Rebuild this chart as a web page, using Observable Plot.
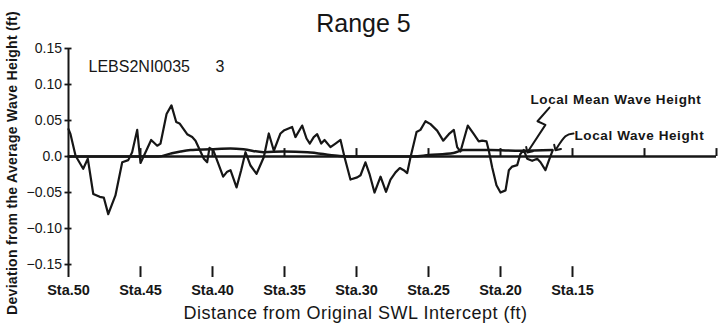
<!DOCTYPE html>
<html><head><meta charset="utf-8">
<script src="https://cdn.jsdelivr.net/npm/d3@7"></script>
<script src="https://cdn.jsdelivr.net/npm/@observablehq/plot@0.6"></script>
<style>
body{margin:0;background:#fff;}
svg text{font-family:"Liberation Sans",Arial,sans-serif;}
.spaced text{letter-spacing:0.6px;}
.xlab text{letter-spacing:0.5px;}
.ylab text{letter-spacing:0.3px;}
</style></head><body><div id="chart"></div>
<script>
const title = "Range 5";
const runId = "LEBS2NI0035";
const runNo = "3";
const xLabel = "Distance from Original SWL Intercept (ft)";
const yLabel = "Deviation from the Average Wave Height (ft)";
const meanLabel = "Local Mean Wave Height";
const localLabel = "Local Wave Height";

const stationTicks = [50, 45, 40, 35, 30, 25, 20, 15];
const stationLabels = ["Sta.50", "Sta.45", "Sta.40", "Sta.35", "Sta.30", "Sta.25", "Sta.20", "Sta.15"];
const zeroLineTicks = [45, 40, 35, 30, 25, 20, 15, 10, 5];
const yTicks = [0.15, 0.10, 0.05, 0, -0.05, -0.10, -0.15];
const yTickLabels = ["0.15", "0.10", "0.05", "0.0", "\u22120.05", "\u22120.10", "\u22120.15"];

const waveStation = [50.0, 49.86, 49.51, 48.98, 48.66, 48.28, 47.83, 47.55, 47.24, 46.74, 46.27, 45.85, 45.58, 45.23, 45.0, 44.65, 44.26, 43.84, 43.61, 43.19, 42.85, 42.52, 42.29, 41.76, 41.41, 41.18, 40.60, 40.37, 40.21, 39.95, 39.63, 39.26, 38.98, 38.75, 38.33, 38.01, 37.71, 37.36, 36.94, 36.44, 36.09, 35.74, 35.28, 35.05, 34.47, 34.24, 33.77, 33.47, 33.24, 32.97, 32.73, 32.45, 32.22, 31.81, 31.46, 31.11, 30.83, 30.42, 29.95, 29.72, 29.38, 29.10, 28.75, 28.33, 27.95, 27.64, 27.29, 26.99, 26.72, 26.48, 26.25, 26.02, 25.83, 25.56, 25.21, 24.86, 24.40, 23.98, 23.59, 23.24, 23.01, 22.78, 22.27, 21.85, 21.51, 21.27, 20.97, 20.81, 20.58, 20.28, 20.00, 19.65, 19.42, 19.19, 18.84, 18.61, 18.38, 18.15, 17.80, 17.45, 17.22, 16.88, 16.65, 16.39];
const waveDeviation = [0.038, 0.031, 0.001, -0.017, -0.003, -0.052, -0.056, -0.057, -0.080, -0.054, -0.008, -0.005, 0.006, 0.037, -0.009, 0.006, 0.023, 0.015, 0.018, 0.059, 0.071, 0.048, 0.046, 0.031, 0.027, 0.022, -0.003, -0.008, 0.012, 0.009, -0.008, -0.028, -0.021, -0.019, -0.043, -0.019, 0.006, -0.0125, -0.024, -0.001, 0.032, 0.008, 0.032, 0.036, 0.041, 0.027, 0.043, 0.025, 0.018, 0.027, 0.031, 0.018, 0.023, 0.013, 0.018, 0.023, -0.001, -0.032, -0.029, -0.026, -0.008, -0.024, -0.050, -0.028, -0.049, -0.032, -0.022, -0.016, -0.019, -0.023, -0.001, 0.018, 0.034, 0.037, 0.049, 0.045, 0.036, 0.022, 0.031, 0.037, 0.013, 0.007, 0.043, 0.031, 0.021, 0.022, 0.021, 0.008, -0.015, -0.040, -0.050, -0.047, -0.019, -0.014, -0.012, 0.004, 0.009, -0.003, -0.006, -0.003, -0.008, -0.019, -0.006, 0.008];

const meanStation = [50, 43.75, 42.92, 42.22, 41.53, 40.14, 38.75, 37.85, 36.46, 35.07, 33.40, 31.32, 30.42, 26.04, 25.0, 23.26, 22.57, 20.69, 18.61, 16.39];
const meanDeviation = [0, 0, 0.004, 0.007, 0.009, 0.010, 0.011, 0.010, 0.006, 0.007, 0.006, 0.001, 0, 0, 0.002, 0.005, 0.009, 0.009, 0.008, 0.009];

const wave = waveStation.map((s, i) => ({station: s, dev: waveDeviation[i]}));
const mean = meanStation.map((s, i) => ({station: s, dev: meanDeviation[i]}));
const meanArrow = [{station: 16.60, dev: 0.068}, {station: 17.43, dev: 0.049}, {station: 16.88, dev: 0.044}, {station: 18.06, dev: 0.008}];
const localArrow = [{station: 14.93, dev: 0.032}, {station: 15.49, dev: 0.028}, {station: 16.11, dev: 0.011}];

const fmtY = d => yTickLabels[yTicks.findIndex(t => Math.abs(t - d) < 1e-9)];
const fmtX = d => stationLabels[stationTicks.indexOf(d)];
const ink = "#161616";

const chart = Plot.plot({
  width: 719, height: 324,
  marginLeft: 68, marginRight: 3, marginTop: 48, marginBottom: 47,
  style: {background: "#fff", color: ink, overflow: "visible"},
  x: {domain: [50, 5]},
  y: {domain: [-0.168, 0.15]},
  marks: [
    Plot.ruleX([50], {y1: -0.168, y2: 0.15, stroke: ink, strokeWidth: 2}),
    Plot.axisY({ticks: yTicks, tickFormat: fmtY, tickSize: 7, dx: 3.5, tickPadding: 3, fontSize: 14, label: null, strokeWidth: 1.8, stroke: ink}),
    Plot.axisX({ticks: stationTicks, tickFormat: fmtX, tickSize: 0, tickPadding: 7, fontSize: 14.5, fontWeight: "bold", label: null}),
    Plot.ruleX(stationTicks.filter(s => s !== 50), {y1: -0.168, y2: -0.153, stroke: ink, strokeWidth: 2}),
    Plot.ruleY([0], {x1: 50, x2: 5, stroke: ink, strokeWidth: 2.5}),
    Plot.ruleX(zeroLineTicks, {y1: 0, y2: 0.011, stroke: ink, strokeWidth: 2}),
    Plot.line(mean, {x: "station", y: "dev", curve: "monotone-x", stroke: ink, strokeWidth: 2.5}),
    Plot.line(wave, {x: "station", y: "dev", stroke: ink, strokeWidth: 2.2}),
    Plot.line(meanArrow, {x: "station", y: "dev", stroke: ink, strokeWidth: 2, markerEnd: "arrow"}),
    Plot.line(localArrow, {x: "station", y: "dev", curve: "natural", stroke: ink, strokeWidth: 2, markerEnd: "arrow"}),
    Plot.text([meanLabel], {x: 17.92, y: 0.079, text: d => d, textAnchor: "start", fontSize: 13.5, fontWeight: "bold", fill: ink, className: "spaced"}),
    Plot.text([localLabel], {x: 14.86, y: 0.029, text: d => d, textAnchor: "start", fontSize: 13.5, fontWeight: "bold", fill: ink, className: "spaced"}),
    Plot.text([runId], {x: 48.61, y: 0.124, text: d => d, textAnchor: "start", fontSize: 16, fill: ink}),
    Plot.text([runNo], {x: 39.79, y: 0.124, text: d => d, textAnchor: "start", fontSize: 16, fill: ink}),
    Plot.text([title], {frameAnchor: "top", dx: -29, dy: -25, lineAnchor: "middle", text: d => d, fontSize: 25, fill: ink}),
    Plot.text([yLabel], {frameAnchor: "left", rotate: -90, dx: -56, textAnchor: "middle", text: d => d, fontSize: 14, fontWeight: "bold", fill: ink, className: "ylab"}),
    Plot.text([xLabel], {frameAnchor: "bottom", dx: -37, dy: 36, lineAnchor: "middle", text: d => d, fontSize: 18, fill: ink, className: "xlab"})
  ]
});
document.getElementById("chart").appendChild(chart);
</script></body></html>
